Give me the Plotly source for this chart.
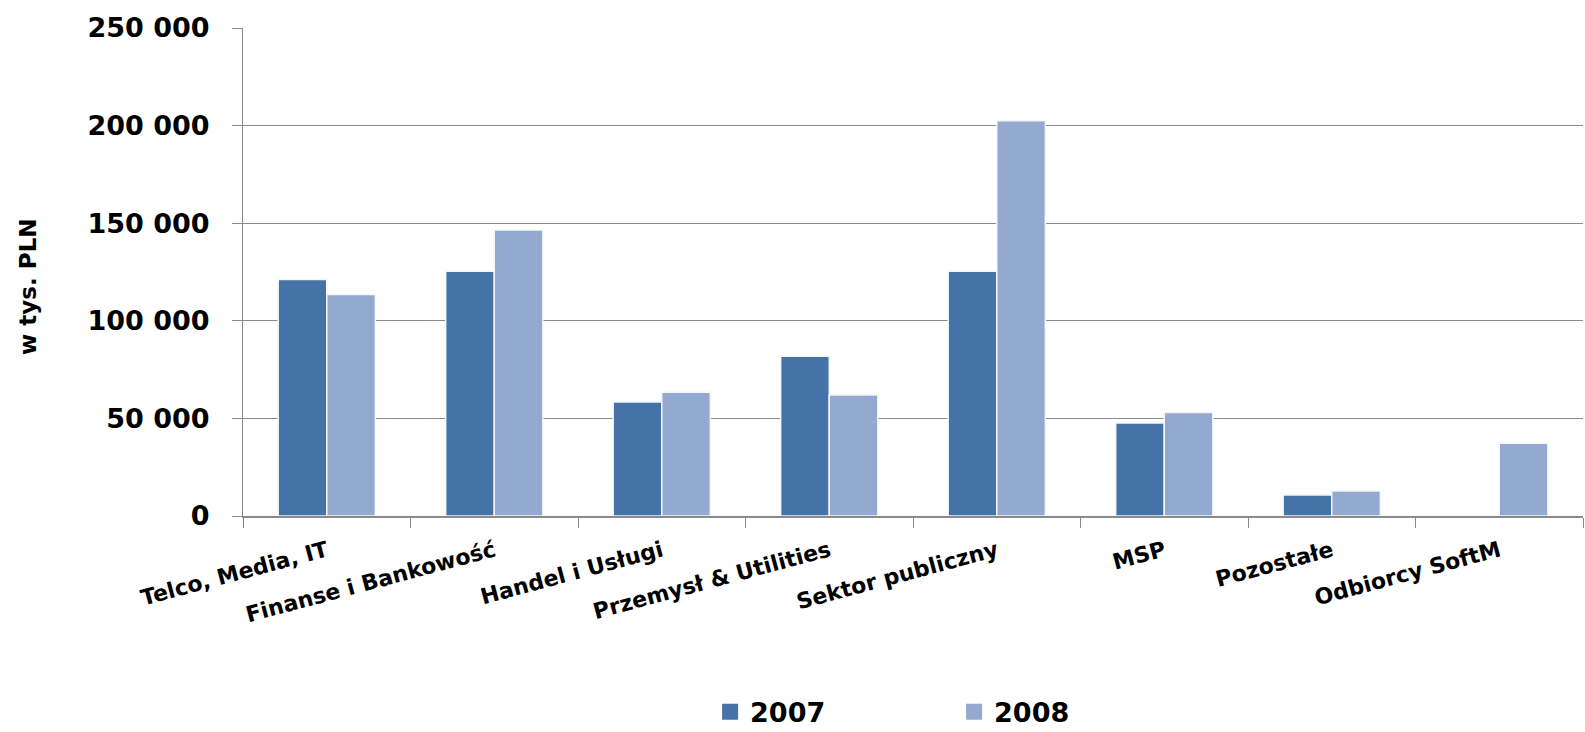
import plotly.graph_objects as go

categories = ["Telco, Media, IT", "Finanse i Bankowość", "Handel i Usługi",
              "Przemysł & Utilities", "Sektor publiczny", "MSP", "Pozostałe",
              "Odbiorcy SoftM"]
values_2007 = [121200, 125400, 58400, 81800, 125400, 47700, 10700, 0]
values_2008 = [113500, 146500, 63400, 62000, 202500, 53000, 12800, 37300]
series_names = ["2007", "2008"]
y_ticks = [0, 50000, 100000, 150000, 200000, 250000]
y_title = "w tys. PLN"

FONT = "DejaVu Sans"
col07 = "#4572A7"
col08 = "#93A9CF"
grid = "#8a8a8a"

fig = go.Figure()
for name, vals, col in [(series_names[0], values_2007, col07),
                        (series_names[1], values_2008, col08)]:
    fig.add_trace(go.Bar(x=categories, y=vals, name=name, legendgroup=name,
                         showlegend=False,
                         marker=dict(color=col, line=dict(color="#f4f6fa", width=1.5))))
# legend-only entries (bigger square symbols)
for name, col in [(series_names[0], col07), (series_names[1], col08)]:
    fig.add_trace(go.Scatter(x=[None], y=[None], mode="markers", name=name,
                             legendgroup=name,
                             marker=dict(symbol="square", size=16, color=col)))

fig.update_layout(
    width=1585, height=732,
    margin=dict(l=243, r=2, t=28, b=216),
    paper_bgcolor="white", plot_bgcolor="white",
    barmode="group", bargap=0.42, bargroupgap=0.0,
    separators=", ",
    font=dict(family=FONT, color="black"),
    legend=dict(orientation="h", xref="container", x=0.448, xanchor="left",
                yref="container", y=0.027, yanchor="middle",
                font=dict(family=FONT, size=27, color="black", weight="bold"),
                entrywidth=199, itemwidth=30, traceorder="normal",
                bgcolor="rgba(0,0,0,0)"),
    showlegend=True,
    annotations=[dict(text=y_title, xref="paper", yref="paper",
                      x=-0.161, y=0.47, textangle=-90, showarrow=False,
                      xanchor="center", yanchor="middle",
                      font=dict(family=FONT, size=23, color="black", weight="bold"))],
)
fig.update_yaxes(
    range=[0, 250000], tickvals=y_ticks, tickformat=",d",
    showgrid=True, gridcolor=grid, gridwidth=1,
    showline=True, linecolor=grid, linewidth=1,
    ticks="outside", ticklen=10, tickcolor=grid,
    ticklabelstandoff=17,
    tickfont=dict(family=FONT, size=27, color="black", weight="bold"),
    zeroline=False,
)
fig.update_xaxes(
    showline=True, linecolor=grid, linewidth=1.5,
    ticks="outside", ticklen=10, tickcolor=grid, tickson="boundaries",
    tickangle=-15, ticklabelstandoff=12,
    tickfont=dict(family=FONT, size=22, color="black", weight="bold"),
)

fig.write_html("out.html", config={"displayModeBar": False},
               post_script="document.body.style.margin='0';"
                           "document.body.style.overflow='hidden';")
